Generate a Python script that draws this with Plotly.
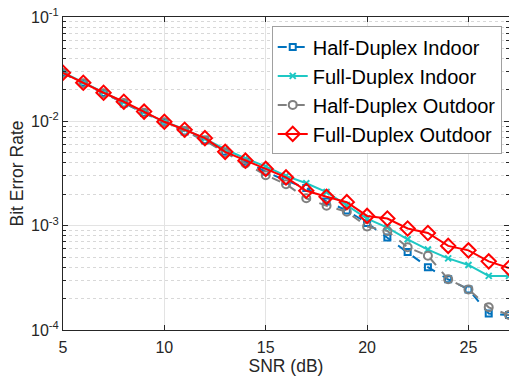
import plotly.graph_objects as go

snr = list(range(5, 28))

hd_indoor = [0.0290, 0.0233, 0.0187, 0.0148, 0.0120, 0.0098, 0.0080, 0.0066, 0.0051, 0.0041,
             0.0033, 0.0027, 0.0023, 0.00170, 0.00140, 0.00106, 0.00077, 0.00056, 0.00040,
             0.000306, 0.000245, 0.000144, 0.000139]
fd_indoor = [0.0295, 0.0236, 0.0190, 0.0152, 0.0122, 0.0099, 0.0084, 0.0068, 0.0054, 0.0044,
             0.0037, 0.0030, 0.00255, 0.0021, 0.00158, 0.00117, 0.00096, 0.00074, 0.00059,
             0.000486, 0.00042, 0.00033, 0.00033]
hd_outdoor = [0.0290, 0.0232, 0.0186, 0.0150, 0.0121, 0.0098, 0.0081, 0.0066, 0.0050, 0.00395,
              0.00305, 0.0025, 0.00183, 0.00155, 0.00136, 0.00098, 0.00089, 0.00062, 0.000515,
              0.000307, 0.000245, 0.000165, 0.000139]
fd_outdoor = [0.0292, 0.0234, 0.0188, 0.0154, 0.0124, 0.0099, 0.0083, 0.0069, 0.0051, 0.0042,
              0.0035, 0.0029, 0.00216, 0.00189, 0.00168, 0.00124, 0.00117, 0.00094, 0.00085,
              0.00064, 0.00058, 0.000455, 0.000393]

names = ["Half-Duplex Indoor", "Full-Duplex Indoor", "Half-Duplex Outdoor", "Full-Duplex Outdoor"]
colors = ["#0072BD", "#1EC8C4", "#808080", "#FF0000"]

ytickvals = [1e-4, 1e-3, 1e-2, 1e-1]
yticktext = ["10<sup>-4</sup>", "10<sup>-3</sup>", "10<sup>-2</sup>", "10<sup>-1</sup>"]
xtickvals = [5, 10, 15, 20, 25]

fig = go.Figure()
fig.add_trace(go.Scatter(x=snr, y=hd_indoor, name=names[0], mode="lines+markers",
                         line=dict(color=colors[0], width=2, dash="dash"),
                         marker=dict(symbol="square-open", size=6, color=colors[0], line=dict(width=2))))
fig.add_trace(go.Scatter(x=snr, y=fd_indoor, name=names[1], mode="lines+markers",
                         line=dict(color=colors[1], width=2),
                         marker=dict(symbol="x-thin-open", size=6, color=colors[1], line=dict(width=2, color=colors[1]))))
fig.add_trace(go.Scatter(x=snr, y=hd_outdoor, name=names[2], mode="lines+markers",
                         line=dict(color=colors[2], width=2, dash="dash"),
                         marker=dict(symbol="circle-open", size=8, color=colors[2], line=dict(width=2))))
fig.add_trace(go.Scatter(x=snr, y=fd_outdoor, name=names[3], mode="lines+markers",
                         line=dict(color=colors[3], width=2),
                         marker=dict(symbol="diamond-open", size=11, color=colors[3], line=dict(width=2))))

axis_color = "#262626"
minor_vals = [m * 10 ** e for e in (-4, -3, -2) for m in range(2, 10)]

fig.update_layout(
    width=509, height=376,
    margin=dict(l=63, r=0, t=17, b=46),
    paper_bgcolor="white", plot_bgcolor="white",
    font=dict(family="Liberation Sans, Arial, sans-serif", size=16, color=axis_color),
    showlegend=True,
    legend=dict(x=0.468, y=0.97, xanchor="left", yanchor="top",
                bgcolor="white", bordercolor="#A0A0A0", borderwidth=1,
                font=dict(size=20, color="#000000"), itemwidth=30,
                tracegroupgap=0),
    xaxis=dict(range=[5, 27], tickvals=xtickvals, ticks="inside", ticklen=5,
               tickcolor=axis_color, showline=True, linecolor=axis_color, linewidth=1,
               mirror="ticks", showgrid=True, gridcolor="#E3E3E3", gridwidth=1,
               zeroline=False, ticklabelstandoff=3,
               title=dict(text="SNR (dB)", standoff=2, font=dict(size=17.5))),
    yaxis=dict(type="log", range=[-4, -1], tickvals=ytickvals, ticktext=yticktext,
               ticks="inside", ticklen=5, tickcolor=axis_color,
               showline=True, linecolor=axis_color, linewidth=1, mirror="ticks",
               showgrid=True, gridcolor="#E3E3E3", gridwidth=1, zeroline=False,
               minor=dict(tickvals=minor_vals, ticks="inside", ticklen=3,
                          tickcolor=axis_color, showgrid=True, gridcolor="#D8D8D8",
                          griddash="dot", gridwidth=1),
               title=dict(text="Bit Error Rate", standoff=2, font=dict(size=17.5))),
)

fig.write_html("out.html")
